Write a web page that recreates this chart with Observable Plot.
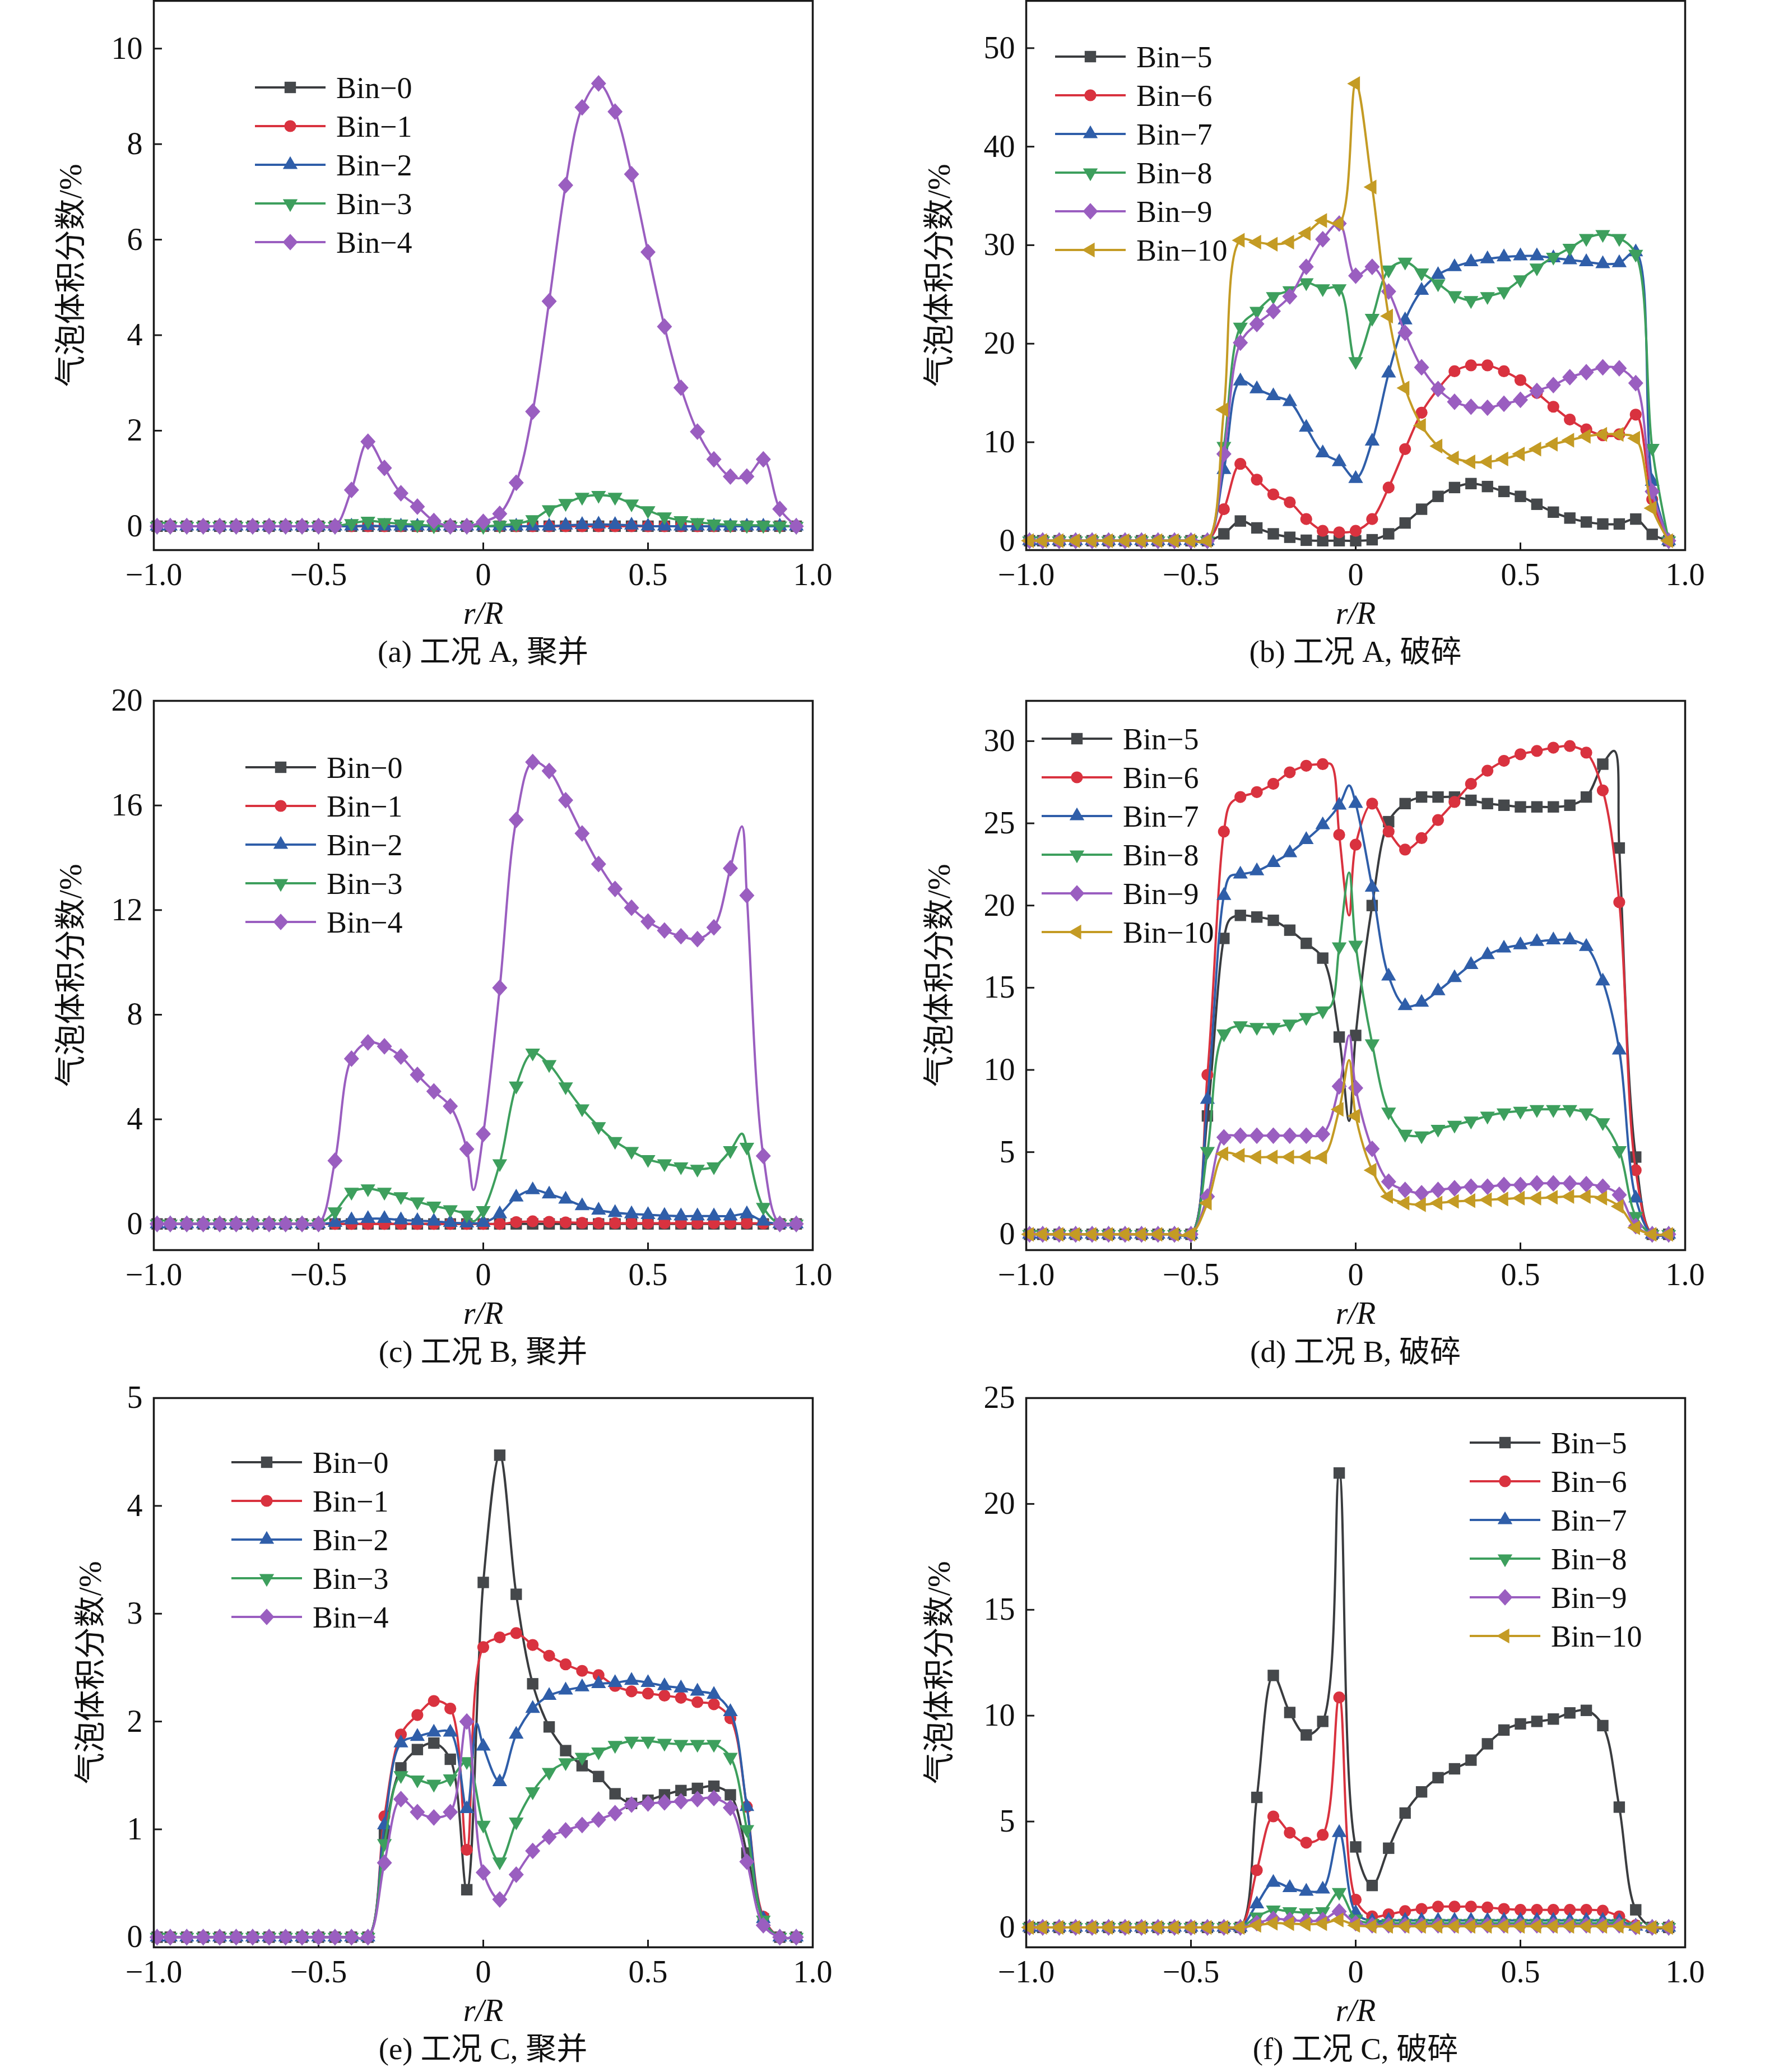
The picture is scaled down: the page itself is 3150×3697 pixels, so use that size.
<!DOCTYPE html>
<html><head><meta charset="utf-8">
<script src="https://cdn.jsdelivr.net/npm/d3@7"></script>
<script src="https://cdn.jsdelivr.net/npm/@observablehq/plot@0.6"></script>
<style>
html,body{margin:0;padding:0;background:#fff;}
#page{position:relative;width:3150px;height:3697px;overflow:hidden;background:#fff;font-family:"Liberation Serif","Noto Sans CJK SC",serif;color:#111;}
.cap{position:absolute;font-size:55px;white-space:nowrap;transform:translate(-50%,-50%);line-height:1;}
</style></head><body><div id="page"></div>
<script>
// ---------- data ----------
const rR = [-0.99,
            -0.95,-0.90,-0.85,-0.80,-0.75,-0.70,-0.65,-0.60,-0.55,-0.50,
            -0.45,-0.40,-0.35,-0.30,-0.25,-0.20,-0.15,-0.10,-0.05,0,
             0.05,0.10,0.15,0.20,0.25,0.30,0.35,0.40,0.45,0.50,
             0.55,0.60,0.65,0.70,0.75,0.80,0.85,0.90,0.95];
const binsLo = ["Bin−0","Bin−1","Bin−2","Bin−3","Bin−4"];
const binsHi = ["Bin−5","Bin−6","Bin−7","Bin−8","Bin−9","Bin−10"];
const xTicks = [-1,-0.5,0,0.5,1];

// (a) 工况 A, 聚并
const aBin0 = [0, 0,0,0,0,0,0,0,0,0,0, 0,0,0,0,0,0,0,0,0,0, 0,0,0,0,0,0,0,0,0,0, 0,0,0,0,0,0,0,0,0];
const aBin1 = [0, 0,0,0,0,0,0,0,0,0,0, 0,0,0,0,0,0,0,0,0,0, 0,0,0,0,0,0,0,0,0,0, 0,0,0,0,0,0,0,0,0];
const aBin2 = [0, 0,0,0,0,0,0,0,0,0,0, 0,0,0.01,0,0,0,0,0,0,0, 0,0,0,0,0.02,0.03,0.04,0.03,0.02,0, 0,0,0,0,0,0,0,0,0];
const aBin3 = [0, 0,0,0,0,0,0,0,0,0,0, 0,0.06,0.11,0.08,0.05,0.03,0.01,0,0,0, 0.02,0.05,0.14,0.35,0.48,0.61,0.65,0.61,0.47,0.33, 0.2,0.12,0.08,0.05,0.03,0.02,0.02,0.01,0];
const aBin4 = [0, 0,0,0,0,0,0,0,0,0,0, 0,0.76,1.77,1.22,0.69,0.41,0.11,0,0,0.09, 0.26,0.91,2.40,4.71,7.14,8.77,9.27,8.68,7.37,5.74, 4.18,2.90,1.98,1.40,1.04,1.04,1.40,0.36,0];
// (b) 工况 A, 破碎
const bBin5 = [0, 0,0,0,0,0,0,0,0,0,0, 0,0.7,2.0,1.3,0.7,0.35,0.05,0,0,0, 0.1,0.7,1.8,3.2,4.5,5.4,5.8,5.5,5.0,4.5, 3.7,2.9,2.3,1.9,1.7,1.7,2.2,0.65,0];
const bBin6 = [0, 0,0,0,0,0,0,0,0,0,0, 0,3.2,7.8,6.2,4.7,3.9,2.2,1.0,0.85,1.0, 2.2,5.4,9.3,13.0,15.4,17.2,17.8,17.8,17.2,16.3, 15.0,13.6,12.3,11.3,10.7,10.8,12.8,4.2,0];
const bBin7 = [0, 0,0,0,0,0,0,0,0,0,0, 0,7.2,16.2,15.4,14.7,14.1,11.5,8.9,8.0,6.3, 10.1,17.0,22.4,25.4,27.0,27.8,28.3,28.6,28.8,28.9, 28.9,28.7,28.5,28.3,28.1,28.2,29.3,6.0,0];
const bBin8 = [0, 0,0,0,0,0,0,0,0,0,0, 0,9.6,21.7,23.3,24.8,25.4,26.2,25.6,25.6,18.2, 22.6,27.5,28.3,27.2,26.1,24.9,24.4,24.8,25.3,26.5, 27.7,28.8,29.7,30.7,31.1,30.7,29.1,9.4,0];
const bBin9 = [0, 0,0,0,0,0,0,0,0,0,0, 0,8.8,20.1,22.0,23.3,24.8,27.8,30.6,32.2,26.9, 27.8,25.3,21.1,17.6,15.4,14.1,13.6,13.5,13.9,14.3, 15.2,15.8,16.6,17.1,17.6,17.5,16.0,5.0,0];
const bBin10 = [0, 0,0,0,0,0,0,0,0,0,0, 0,13.3,30.5,30.3,30.1,30.3,31.2,32.5,32.2,46.4, 35.9,22.8,15.5,11.7,9.6,8.4,8.0,8.0,8.3,8.8, 9.3,9.8,10.2,10.6,10.8,10.8,10.4,3.3,0];
// (c) 工况 B, 聚并
const cBin0 = [0, 0,0,0,0,0,0,0,0,0,0, 0,0,0,0,0,0,0,0,0,0, 0,0,0,0,0,0,0,0,0,0, 0,0,0,0,0,0,0,0,0];
const cBin1 = [0, 0,0,0,0,0,0,0,0,0,0, 0,0,0,0,0,0,0,0,0,0, 0,0.07,0.1,0.08,0.06,0.04,0.03,0.03,0.03,0.03, 0.03,0.03,0.03,0.03,0.03,0.03,0.02,0,0];
const cBin2 = [0, 0,0,0,0,0,0,0,0,0,0, 0.05,0.15,0.2,0.2,0.15,0.12,0.1,0.05,0.03,0.05, 0.38,1.02,1.3,1.14,0.94,0.69,0.52,0.43,0.38,0.35, 0.32,0.3,0.3,0.3,0.3,0.38,0.1,0,0];
const cBin3 = [0, 0,0,0,0,0,0,0,0,0,0, 0.47,1.22,1.35,1.22,1.05,0.85,0.69,0.55,0.35,0.52, 2.31,5.28,6.54,6.1,5.25,4.41,3.73,3.16,2.78,2.47, 2.31,2.19,2.1,2.19,2.81,2.94,0.64,0,0];
const cBin4 = [0, 0,0,0,0,0,0,0,0,0,0, 2.42,6.32,6.94,6.79,6.40,5.70,5.07,4.50,2.86,3.44, 9.03,15.45,17.66,17.32,16.2,14.93,13.76,12.81,12.09,11.56, 11.22,11.0,10.89,11.34,13.6,12.56,2.6,0,0];
// line-only points (no marker): [r/R, value]
const cBin3Line = [[-0.03,0.1],[0.785,3.45]];
const cBin4Line = [[-0.03,1.3],[0.785,15.2]];
// (d) 工况 B, 破碎
const dBin5 = [0, 0,0,0,0,0,0,0,0,0,0, 7.2,18.0,19.4,19.3,19.1,18.5,17.7,16.8,12.0,12.1, 20.0,25.1,26.2,26.6,26.6,26.6,26.4,26.2,26.1,26.0, 26.0,26.0,26.1,26.6,28.6,23.5,4.7,0,0];
const dBin6 = [0, 0,0,0,0,0,0,0,0,0,0, 9.7,24.5,26.6,26.9,27.4,28.1,28.5,28.6,24.3,23.7, 26.2,24.5,23.4,24.1,25.2,26.3,27.4,28.2,28.8,29.2, 29.4,29.6,29.7,29.3,27.0,20.2,3.9,0,0];
const dBin7 = [0, 0,0,0,0,0,0,0,0,0,0, 8.2,20.6,21.9,22.1,22.6,23.2,24.0,24.9,26.1,26.2, 21.1,15.7,13.9,14.1,14.8,15.6,16.4,17.0,17.4,17.6, 17.8,17.9,17.9,17.5,15.4,11.2,2.2,0,0];
const dBin8 = [0, 0,0,0,0,0,0,0,0,0,0, 5.05,12.2,12.7,12.6,12.6,12.8,13.2,13.6,17.5,17.6, 11.6,7.45,6.1,6.0,6.4,6.65,6.9,7.2,7.4,7.5, 7.6,7.6,7.6,7.4,6.8,5.1,1.1,0,0];
const dBin9 = [0, 0,0,0,0,0,0,0,0,0,0, 2.3,5.9,6.0,6.0,6.0,6.0,6.0,6.1,9.0,8.9, 5.2,3.2,2.7,2.5,2.7,2.8,2.9,2.9,3.0,3.0, 3.1,3.1,3.1,3.05,2.9,2.4,0.5,0,0];
const dBin10 = [0, 0,0,0,0,0,0,0,0,0,0, 1.9,4.9,4.8,4.7,4.7,4.7,4.7,4.7,7.6,7.2, 3.9,2.3,1.9,1.8,1.9,2.0,2.05,2.1,2.15,2.2, 2.2,2.25,2.3,2.3,2.2,1.7,0.4,0,0];
const dBin5Line = [[-0.38,19.2],[-0.02,6.9],[0.785,29.4]];
const dBin6Line = [[-0.38,26.2],[-0.075,28.6],[-0.02,19.4]];
const dBin7Line = [[-0.38,21.8],[-0.02,27.3]];
const dBin8Line = [[-0.075,13.9],[-0.02,22.0]];
const dBin9Line = [[-0.02,12.1]];
const dBin10Line = [[-0.02,10.6]];
// (e) 工况 C, 聚并
const eBin0 = [0, 0,0,0,0,0,0,0,0,0,0, 0,0,0,0.95,1.57,1.74,1.80,1.65,0.44,3.29, 4.47,3.18,2.35,1.95,1.73,1.59,1.49,1.33,1.24,1.27, 1.32,1.36,1.38,1.40,1.32,0.78,0.17,0,0];
const eBin1 = [0, 0,0,0,0,0,0,0,0,0,0, 0,0,0,1.12,1.88,2.06,2.19,2.12,0.81,2.69, 2.78,2.82,2.71,2.61,2.53,2.47,2.43,2.33,2.28,2.26, 2.24,2.22,2.18,2.16,2.03,1.21,0.19,0,0];
const eBin2 = [0, 0,0,0,0,0,0,0,0,0,0, 0,0,0,1.04,1.80,1.86,1.90,1.90,1.19,1.77, 1.44,1.88,2.12,2.24,2.29,2.32,2.35,2.36,2.38,2.36, 2.33,2.31,2.28,2.25,2.09,1.21,0.17,0,0];
const eBin3 = [0, 0,0,0,0,0,0,0,0,0,0, 0,0,0,0.87,1.50,1.46,1.42,1.47,1.63,1.04, 0.70,1.07,1.35,1.53,1.62,1.67,1.72,1.78,1.82,1.82, 1.80,1.79,1.79,1.79,1.67,1.0,0.16,0,0];
const eBin4 = [0, 0,0,0,0,0,0,0,0,0,0, 0,0,0,0.69,1.28,1.16,1.11,1.16,2.0,0.60, 0.35,0.58,0.80,0.93,0.99,1.04,1.09,1.15,1.23,1.24, 1.25,1.26,1.28,1.29,1.2,0.70,0.11,0,0];
const eBin2Line = [[-0.02,1.98]];
// (f) 工况 C, 破碎
const fBin5 = [0, 0,0,0,0,0,0,0,0,0,0, 0,0,0,6.14,11.9,10.15,9.09,9.73,21.46,3.8, 1.98,3.74,5.4,6.4,7.07,7.49,7.9,8.67,9.32,9.61, 9.73,9.84,10.13,10.25,9.53,5.68,0.83,0,0];
const fBin6 = [0, 0,0,0,0,0,0,0,0,0,0, 0,0,0,2.7,5.24,4.47,4.0,4.37,10.86,1.31, 0.52,0.62,0.77,0.87,0.98,0.98,0.98,0.94,0.87,0.83, 0.83,0.83,0.83,0.83,0.79,0.52,0.1,0,0];
const fBin7 = [0, 0,0,0,0,0,0,0,0,0,0, 0,0,0,1.1,2.12,1.87,1.7,1.8,4.47,0.69, 0.3,0.33,0.33,0.33,0.33,0.33,0.33,0.33,0.33,0.33, 0.33,0.33,0.33,0.33,0.33,0.3,0.05,0,0];
const fBin8 = [0, 0,0,0,0,0,0,0,0,0,0, 0,0,0,0.5,0.83,0.75,0.7,0.75,1.66,0.4, 0.2,0.2,0.2,0.2,0.2,0.2,0.2,0.2,0.2,0.2, 0.2,0.2,0.2,0.2,0.2,0.2,0.05,0,0];
const fBin9 = [0, 0,0,0,0,0,0,0,0,0,0, 0,0,0,0.2,0.4,0.35,0.3,0.35,0.75,0.2, 0.1,0.1,0.1,0.1,0.1,0.1,0.1,0.1,0.1,0.1, 0.1,0.1,0.1,0.1,0.1,0.1,0.02,0,0];
const fBin10 = [0, 0,0,0,0,0,0,0,0,0,0, 0,0,0,0.1,0.2,0.18,0.15,0.18,0.35,0.1, 0.05,0.05,0.05,0.05,0.05,0.05,0.05,0.05,0.05,0.05, 0.05,0.05,0.05,0.05,0.05,0.05,0,0,0];

// ---------- styles ----------
const symSquare = {draw(c,s){const a=Math.sqrt(s)/2; c.moveTo(-a,-a); c.lineTo(a,-a); c.lineTo(a,a); c.lineTo(-a,a); c.closePath();}};
const symCircle = d3.symbolCircle;
function triSide(s){return Math.sqrt(s/(Math.sqrt(3)/4));}
const symTriUp = {draw(c,s){const a=triSide(s), h=a*Math.sqrt(3)/2; c.moveTo(0,-2*h/3); c.lineTo(a/2,h/3); c.lineTo(-a/2,h/3); c.closePath();}};
const symTriDown = {draw(c,s){const a=triSide(s), h=a*Math.sqrt(3)/2; c.moveTo(0,2*h/3); c.lineTo(-a/2,-h/3); c.lineTo(a/2,-h/3); c.closePath();}};
const symTriLeft = {draw(c,s){const a=triSide(s), h=a*Math.sqrt(3)/2; c.moveTo(-2*h/3,0); c.lineTo(h/3,-a/2); c.lineTo(h/3,a/2); c.closePath();}};
const symDiamond = {draw(c,s){const a=Math.sqrt(s/2.2), b=1.1*a; c.moveTo(0,-b); c.lineTo(a,0); c.lineTo(0,b); c.lineTo(-a,0); c.closePath();}};
const styles = [
  {color:"#45484b", line:"#3a3c3f", symbol:symSquare,   r:11.5},
  {color:"#d9323f", line:"#d9323f", symbol:symCircle,   r:10.6},
  {color:"#2f5ea9", line:"#2f5ea9", symbol:symTriUp,    r:9.8},
  {color:"#3d9f5d", line:"#3d9f5d", symbol:symTriDown,  r:9.8},
  {color:"#9a5ec0", line:"#9a5ec0", symbol:symDiamond,  r:11.3},
  {color:"#c49b24", line:"#c49b24", symbol:symTriLeft,  r:9.8}
];
const FONT = '"Liberation Serif","Noto Sans CJK SC",serif';
const W = 1176, H = 980, mL = 200, mR = 60, mT = 40, mB = 160, ROW = 69;

const panels = [
  {left:274, top:1, y:[-0.5,11], yt:[0,2,4,6,8,10], names:binsLo, series:[aBin0,aBin1,aBin2,aBin3,aBin4], extra:[], cap:"(a) 工况 A, 聚并", lo:169, lg:[181,155]},
  {left:1831, top:1, y:[-0.95,54.8], yt:[0,10,20,30,40,50], names:binsHi, series:[bBin5,bBin6,bBin7,bBin8,bBin9,bBin10], extra:[], cap:"(b) 工况 A, 破碎", lo:176, lg:[52,100]},
  {left:274, top:1250, y:[-1,20], yt:[0,4,8,12,16,20], names:binsLo, series:[cBin0,cBin1,cBin2,cBin3,cBin4], extra:[[],[],[],cBin3Line,cBin4Line], cap:"(c) 工况 B, 聚并", lo:169, lg:[164,119]},
  {left:1831, top:1250, y:[-0.96,32.45], yt:[0,5,10,15,20,25,30], names:binsHi, series:[dBin5,dBin6,dBin7,dBin8,dBin9,dBin10], extra:[dBin5Line,dBin6Line,dBin7Line,dBin8Line,dBin9Line,dBin10Line], cap:"(d) 工况 B, 破碎", lo:176, lg:[28,68]},
  {left:274, top:2494, y:[-0.094,5], yt:[0,1,2,3,4,5], names:binsLo, series:[eBin0,eBin1,eBin2,eBin3,eBin4], extra:[[],[],eBin2Line,[],[]], cap:"(e) 工况 C, 聚并", lo:134, lg:[139,115]},
  {left:1831, top:2494, y:[-0.94,25], yt:[0,5,10,15,20,25], names:binsHi, series:[fBin5,fBin6,fBin7,fBin8,fBin9,fBin10], extra:[], cap:"(f) 工况 C, 破碎", lo:176, lg:[792,80]}
];

const fmtX = d => d === 0 ? "0" : d3.format(".1f")(d);
const page = document.getElementById("page");

function legendMark(p){
  return () => {
    const g = d3.create("svg:g");
    p.names.forEach((nm, k) => {
      const st = styles[k];
      const x0 = mL + p.lg[0], y0 = mT + p.lg[1] + k * ROW;
      g.append("line").attr("x1", x0).attr("x2", x0 + 126).attr("y1", y0).attr("y2", y0)
        .attr("stroke", st.line).attr("stroke-width", 4);
      g.append("path").attr("transform", `translate(${x0 + 63},${y0})`)
        .attr("d", d3.symbol(st.symbol, Math.PI * st.r * st.r)()).attr("fill", st.color);
      g.append("text").attr("x", x0 + 145).attr("y", y0).attr("dy", "0.35em")
        .attr("text-anchor", "start")
        .attr("font-size", 54).attr("font-family", FONT).attr("fill", "#111").text(nm);
    });
    return g.node();
  };
}

panels.forEach(p => {
  const marks = [];
  marks.push(Plot.tickY(p.yt, {y: d => d, stroke: "#1a1a1a", strokeWidth: 3, insetRight: W - 15}));
  marks.push(Plot.tickX(xTicks.slice(1, -1), {x: d => d, stroke: "#1a1a1a", strokeWidth: 3, insetTop: H - 13}));
  p.series.forEach((vals, k) => {
    const st = styles[k];
    const pts = rR.map((x, i) => ({x, y: vals[i]}));
    const extra = (p.extra[k] || []).map(([x, y]) => ({x, y}));
    const linePts = pts.concat(extra).sort((a, b) => a.x - b.x);
    marks.push(Plot.line(linePts, {x: "x", y: "y", stroke: st.line, strokeWidth: 4, curve: "catmull-rom"}));
    marks.push(Plot.dot(pts, {x: "x", y: "y", symbol: st.symbol, r: st.r, fill: st.color, stroke: "none"}));
  });
  marks.push(Plot.axisY(p.yt, {tickSize: 0, tickPadding: 20, fontSize: 56, tickFormat: d => String(d),
    label: "气泡体积分数/%", labelAnchor: "center", labelOffset: p.lo, labelArrow: "none"}));
  marks.push(Plot.axisX(xTicks, {tickSize: 0, tickPadding: 23, fontSize: 56, tickFormat: fmtX,
    label: "r/R", labelAnchor: "center", labelOffset: 131, labelArrow: "none"}));
  marks.push(legendMark(p));
  marks.push(Plot.frame({stroke: "#1a1a1a", strokeWidth: 3.5}));

  const svg = Plot.plot({
    width: mL + W + mR, height: mT + H + mB,
    marginLeft: mL, marginRight: mR, marginTop: mT, marginBottom: mB,
    x: {domain: [-1, 1]},
    y: {domain: p.y},
    style: {fontFamily: FONT, fontSize: "56px", color: "#111", background: "transparent", overflow: "visible"},
    marks
  });
  d3.select(svg).selectAll('[aria-label="x-axis label"] text').attr("font-style", "italic");
  svg.style.position = "absolute";
  svg.style.left = (p.left - mL) + "px";
  svg.style.top = (p.top - mT) + "px";
  page.appendChild(svg);

  const cap = document.createElement("div");
  cap.className = "cap";
  cap.textContent = p.cap;
  cap.style.left = (p.left + W / 2) + "px";
  cap.style.top = (p.top + H + 181) + "px";
  page.appendChild(cap);
});
</script></body></html>
